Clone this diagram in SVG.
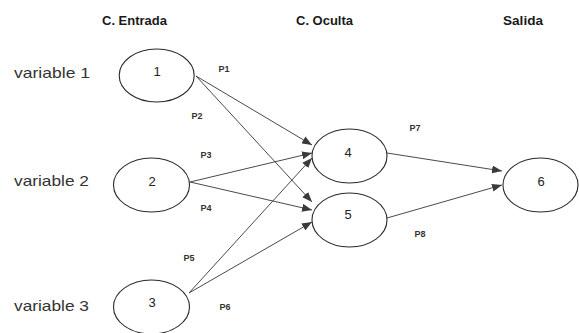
<svg xmlns="http://www.w3.org/2000/svg" width="579" height="333" viewBox="0 0 579 333">
  <defs>
    <marker id="arrow" viewBox="0 0 10 8" refX="10" refY="4" markerWidth="10" markerHeight="8" markerUnits="userSpaceOnUse" orient="auto">
      <path d="M0,0 L10,4 L0,8 Z" fill="#3a3a3a"/>
    </marker>
    <style>
      .node ellipse { fill: #ffffff; stroke: #2a2a2a; stroke-width: 1.1; }
      .num { font-family: "Liberation Sans", Arial, sans-serif; font-size: 13px; fill: #222222; text-anchor: middle; }
      .head { font-family: "Liberation Sans", Arial, sans-serif; font-size: 12px; font-weight: bold; fill: #1a1a1a; text-anchor: middle; }
      .var { font-family: "Liberation Sans", Arial, sans-serif; font-size: 15px; fill: #333333; }
      .w { font-family: "Liberation Sans", Arial, sans-serif; font-size: 9px; font-weight: bold; fill: #333333; text-anchor: middle; }
      .edge { stroke: #4a4a4a; stroke-width: 1; fill: none; marker-end: url(#arrow); }
    </style>
  </defs>
  <rect width="579" height="333" fill="#ffffff"/>

  <!-- column headers -->
  <g id="headers">
    <text class="head" x="134.5" y="25" textLength="65" lengthAdjust="spacingAndGlyphs">C. Entrada</text>
    <text class="head" x="324.5" y="25" textLength="57" lengthAdjust="spacingAndGlyphs">C. Oculta</text>
    <text class="head" x="523" y="25" textLength="40" lengthAdjust="spacingAndGlyphs">Salida</text>
  </g>

  <!-- input variable names -->
  <g id="inputs-labels">
    <text class="var" x="14" y="78" textLength="76" lengthAdjust="spacingAndGlyphs">variable 1</text>
    <text class="var" x="14" y="186" textLength="75" lengthAdjust="spacingAndGlyphs">variable 2</text>
    <text class="var" x="14" y="311" textLength="75" lengthAdjust="spacingAndGlyphs">variable 3</text>
  </g>

  <!-- connectors -->
  <g id="connectors">
    <line class="edge" x1="196" y1="76" x2="312" y2="145"/>
    <line class="edge" x1="196" y1="76" x2="312" y2="202"/>
    <line class="edge" x1="190" y1="182" x2="312" y2="153"/>
    <line class="edge" x1="190" y1="182" x2="312" y2="210"/>
    <line class="edge" x1="189" y1="293" x2="312" y2="158"/>
    <line class="edge" x1="189" y1="293" x2="312" y2="222"/>
    <line class="edge" x1="387" y1="153" x2="502" y2="171"/>
    <line class="edge" x1="387" y1="218" x2="502" y2="185"/>
  </g>

  <!-- weight labels -->
  <g id="weights">
    <text class="w" x="224" y="72">P1</text>
    <text class="w" x="197" y="119">P2</text>
    <text class="w" x="206" y="158">P3</text>
    <text class="w" x="206" y="211">P4</text>
    <text class="w" x="189" y="261">P5</text>
    <text class="w" x="225" y="310">P6</text>
    <text class="w" x="415" y="131">P7</text>
    <text class="w" x="420" y="237">P8</text>
  </g>

  <!-- input layer -->
  <g id="node-1" class="node">
    <ellipse cx="156.7" cy="75.5" rx="37.5" ry="26.5"/>
    <text class="num" x="157" y="76">1</text>
  </g>
  <g id="node-2" class="node">
    <ellipse cx="151.5" cy="185" rx="38" ry="27"/>
    <text class="num" x="152" y="186">2</text>
  </g>
  <g id="node-3" class="node">
    <ellipse cx="151.5" cy="307" rx="38" ry="27"/>
    <text class="num" x="152" y="307">3</text>
  </g>

  <!-- hidden layer -->
  <g id="node-4" class="node">
    <ellipse cx="349.5" cy="156" rx="37.5" ry="27"/>
    <text class="num" x="348" y="157">4</text>
  </g>
  <g id="node-5" class="node">
    <ellipse cx="349.5" cy="220" rx="37.5" ry="27"/>
    <text class="num" x="348" y="219">5</text>
  </g>

  <!-- output layer -->
  <g id="node-6" class="node">
    <ellipse cx="540.5" cy="185" rx="37.5" ry="27"/>
    <text class="num" x="541" y="186">6</text>
  </g>
</svg>
